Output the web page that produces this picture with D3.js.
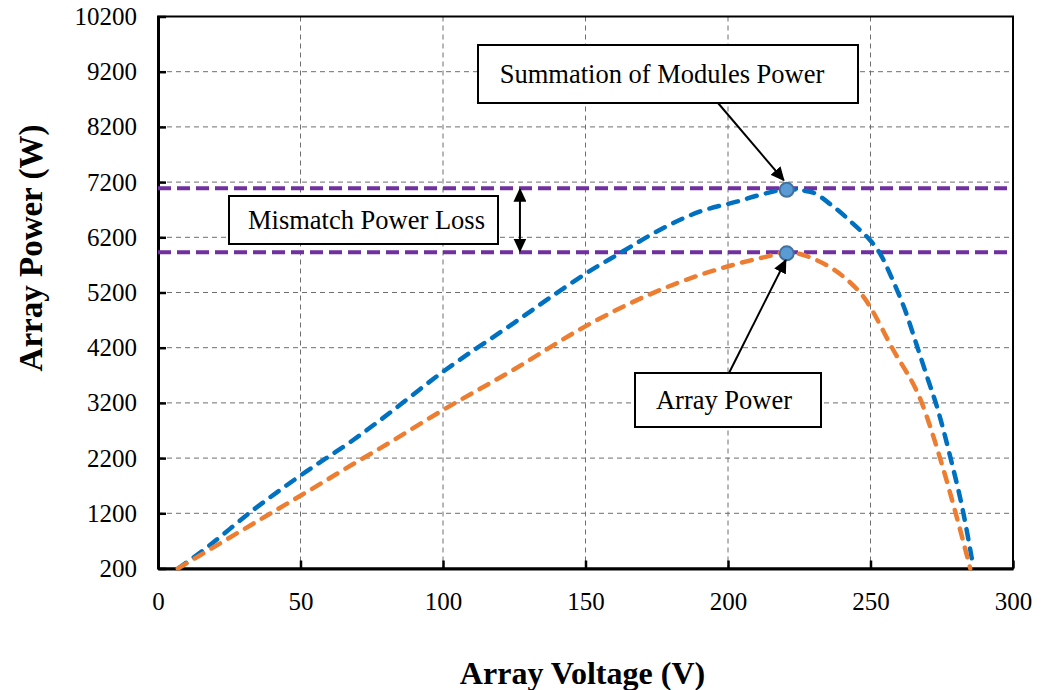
<!DOCTYPE html>
<html>
<head>
<meta charset="utf-8">
<script src="https://cdn.jsdelivr.net/npm/d3@7"></script>
<style>
    body { margin: 0; background: #fff; }
    svg text { font-family: "Liberation Serif", "Times New Roman", serif; }
</style>
</head>
<body>
<div id="chart"></div>
<script>
// values
const yTicks = [200, 1200, 2200, 3200, 4200, 5200, 6200, 7200, 8200, 9200, 10200];
const xTicks = [0, 50, 100, 150, 200, 250, 300];

const moduleVoltage = [7, 16, 33.4, 50.4, 68.5, 78, 100, 124.7, 141, 150, 162, 176, 190, 203, 213.6, 220.6, 228.8, 237, 245, 249.8, 253.3, 258, 262, 266.2, 270, 273.2, 278.1, 282.6, 286];
const modulePower = [200, 535, 1260, 1900, 2528, 2890, 3765, 4642, 5230, 5540, 5910, 6332, 6664, 6845, 7000, 7070, 7026, 6754, 6392, 6151, 5910, 5400, 4900, 4250, 3650, 3150, 2200, 1200, 250];

const arrayVoltage = [7, 21.8, 40.5, 50.4, 70.9, 77.9, 100, 124.7, 150.4, 164.4, 182, 199.5, 213.6, 220.6, 231, 240.5, 247.5, 258, 268, 274.4, 279.9, 285];
const arrayPower = [200, 656, 1229, 1531, 2166, 2377, 3071, 3800, 4600, 4973, 5367, 5667, 5850, 5930, 5789, 5486, 5124, 4158, 3200, 2200, 1200, 200];

const maxModulePower = 7090;
const maxArrayPower = 5930;
const mppVoltage = 220.6;
const mismatchVoltage = 127;

const width = 1041;
const height = 690;
const margin = { top: 16.5, right: 28, bottom: 121.5, left: 158 };

const svg = d3.select("#chart")
    .append("svg")
    .attr("width", width)
    .attr("height", height);

const xScale = d3.scaleLinear().domain([0, 300]).range([margin.left, width - margin.right]);
const yScale = d3.scaleLinear().domain([200, 10200]).range([height - margin.bottom, margin.top]);

const defs = svg.append("defs");
defs.append("marker")
    .attr("id", "head")
    .attr("viewBox", "0 0 10 10")
    .attr("refX", 9)
    .attr("refY", 5)
    .attr("markerWidth", 7)
    .attr("markerHeight", 6.5)
    .attr("markerUnits", "strokeWidth")
    .attr("orient", "auto-start-reverse")
    .attr("preserveAspectRatio", "none")
    .append("path")
    .attr("d", "M0,0 L10,5 L0,10 Z")
    .attr("fill", "black");

// grid
const grid = svg.append("g");
grid.selectAll(".gx")
    .data(xTicks.slice(1, -1))
    .enter().append("line")
    .attr("x1", d => xScale(d)).attr("x2", d => xScale(d))
    .attr("y1", yScale(10200)).attr("y2", yScale(200))
    .attr("stroke", "#6e6e6e").attr("stroke-width", 1).attr("stroke-dasharray", "5,4");
grid.selectAll(".gy")
    .data(yTicks.slice(1, -1))
    .enter().append("line")
    .attr("x1", xScale(0)).attr("x2", xScale(300))
    .attr("y1", d => yScale(d)).attr("y2", d => yScale(d))
    .attr("stroke", "#6e6e6e").attr("stroke-width", 1).attr("stroke-dasharray", "5,4");

// frame
svg.append("rect")
    .attr("x", xScale(0)).attr("y", yScale(10200))
    .attr("width", xScale(300) - xScale(0))
    .attr("height", yScale(200) - yScale(10200))
    .attr("fill", "none").attr("stroke", "black").attr("stroke-width", 2);

// axes
const xAxis = svg.append("g")
    .attr("transform", `translate(0,${yScale(200)})`)
    .call(d3.axisBottom(xScale).tickValues(xTicks).tickFormat(d3.format("d"))
        .tickSizeInner(-8).tickSizeOuter(0).tickPadding(24));
const yAxis = svg.append("g")
    .attr("transform", `translate(${xScale(0)},0)`)
    .call(d3.axisLeft(yScale).tickValues(yTicks).tickFormat(d3.format("d"))
        .tickSizeInner(-8).tickSizeOuter(0).tickPadding(21));
[xAxis, yAxis].forEach(ax => {
    ax.attr("font-family", "Liberation Serif").attr("font-size", 25);
    ax.select(".domain").attr("stroke-width", 3);
    ax.selectAll(".tick line").attr("stroke-width", 2.5);
    ax.selectAll("text")
        .style("font-family", "'Liberation Serif', serif")
        .style("font-size", "25px")
        .attr("fill", "black");
});

// mismatch lines
svg.selectAll(".mpp")
    .data([maxModulePower, maxArrayPower])
    .enter().append("line")
    .attr("x1", xScale(0)).attr("x2", xScale(300))
    .attr("y1", d => yScale(d)).attr("y2", d => yScale(d))
    .attr("stroke", "#7030A0").attr("stroke-width", 4).attr("stroke-dasharray", "13,6");

// curves
const line = d3.line().x(d => xScale(d[0])).y(d => yScale(d[1])).curve(d3.curveMonotoneX);

svg.append("path")
    .datum(d3.zip(moduleVoltage, modulePower))
    .attr("fill", "none")
    .attr("stroke", "#0070C0")
    .attr("stroke-width", 4.5)
    .attr("stroke-linecap", "round")
    .attr("stroke-dasharray", "10,9.5")
    .attr("d", line);

svg.append("path")
    .datum(d3.zip(arrayVoltage, arrayPower))
    .attr("fill", "none")
    .attr("stroke", "#ED7D31")
    .attr("stroke-width", 4.5)
    .attr("stroke-linecap", "round")
    .attr("stroke-dasharray", "10,9.5")
    .attr("d", line);

// peak markers
svg.selectAll(".peak")
    .data([maxModulePower - 30, maxArrayPower - 20])
    .enter().append("circle")
    .attr("cx", xScale(mppVoltage))
    .attr("cy", d => yScale(d))
    .attr("r", 7)
    .attr("fill", "#5B9BD5")
    .attr("stroke", "#41719C")
    .attr("stroke-width", 2);

// double arrow
svg.append("line")
    .attr("x1", xScale(mismatchVoltage)).attr("x2", xScale(mismatchVoltage))
    .attr("y1", yScale(maxModulePower) + 1).attr("y2", yScale(maxArrayPower) - 1)
    .attr("stroke", "black").attr("stroke-width", 2)
    .attr("marker-start", "url(#head)")
    .attr("marker-end", "url(#head)");

// annotation arrows
svg.append("line")
    .attr("x1", 718).attr("y1", 103)
    .attr("x2", xScale(mppVoltage) - 3).attr("y2", yScale(maxModulePower) - 8)
    .attr("stroke", "black").attr("stroke-width", 2)
    .attr("marker-end", "url(#head)");
svg.append("line")
    .attr("x1", 729).attr("y1", 373)
    .attr("x2", xScale(mppVoltage) - 1).attr("y2", yScale(maxArrayPower) + 8)
    .attr("stroke", "black").attr("stroke-width", 2)
    .attr("marker-end", "url(#head)");

// annotation boxes
const notes = [
    { text: "Summation of Modules Power", x: 478, y: 45, w: 380, h: 58, tx: 662 },
    { text: "Mismatch Power Loss", x: 229, y: 196, w: 269, h: 48, tx: 366.5 },
    { text: "Array Power", x: 635, y: 373, w: 186, h: 54, tx: 724 }
];
const note = svg.selectAll(".note")
    .data(notes)
    .enter().append("g");
note.append("rect")
    .attr("x", d => d.x).attr("y", d => d.y)
    .attr("width", d => d.w).attr("height", d => d.h)
    .attr("fill", "white").attr("stroke", "black").attr("stroke-width", 2);
note.append("text")
    .attr("x", d => d.tx)
    .attr("y", d => d.y + d.h / 2)
    .attr("dy", "0.33em")
    .attr("text-anchor", "middle")
    .attr("font-size", 26.5)
    .text(d => d.text);

// axis titles
svg.append("text")
    .attr("x", (xScale(0) + xScale(300)) / 2 - 3)
    .attr("y", 673)
    .attr("dy", "0.35em")
    .attr("text-anchor", "middle")
    .attr("font-weight", "bold")
    .attr("font-size", 32)
    .text("Array Voltage (V)");
svg.append("text")
    .attr("transform", "translate(30,248) rotate(-90)")
    .attr("dy", "0.35em")
    .attr("text-anchor", "middle")
    .attr("font-weight", "bold")
    .attr("font-size", 33)
    .text("Array Power (W)");
</script>
</body>
</html>
